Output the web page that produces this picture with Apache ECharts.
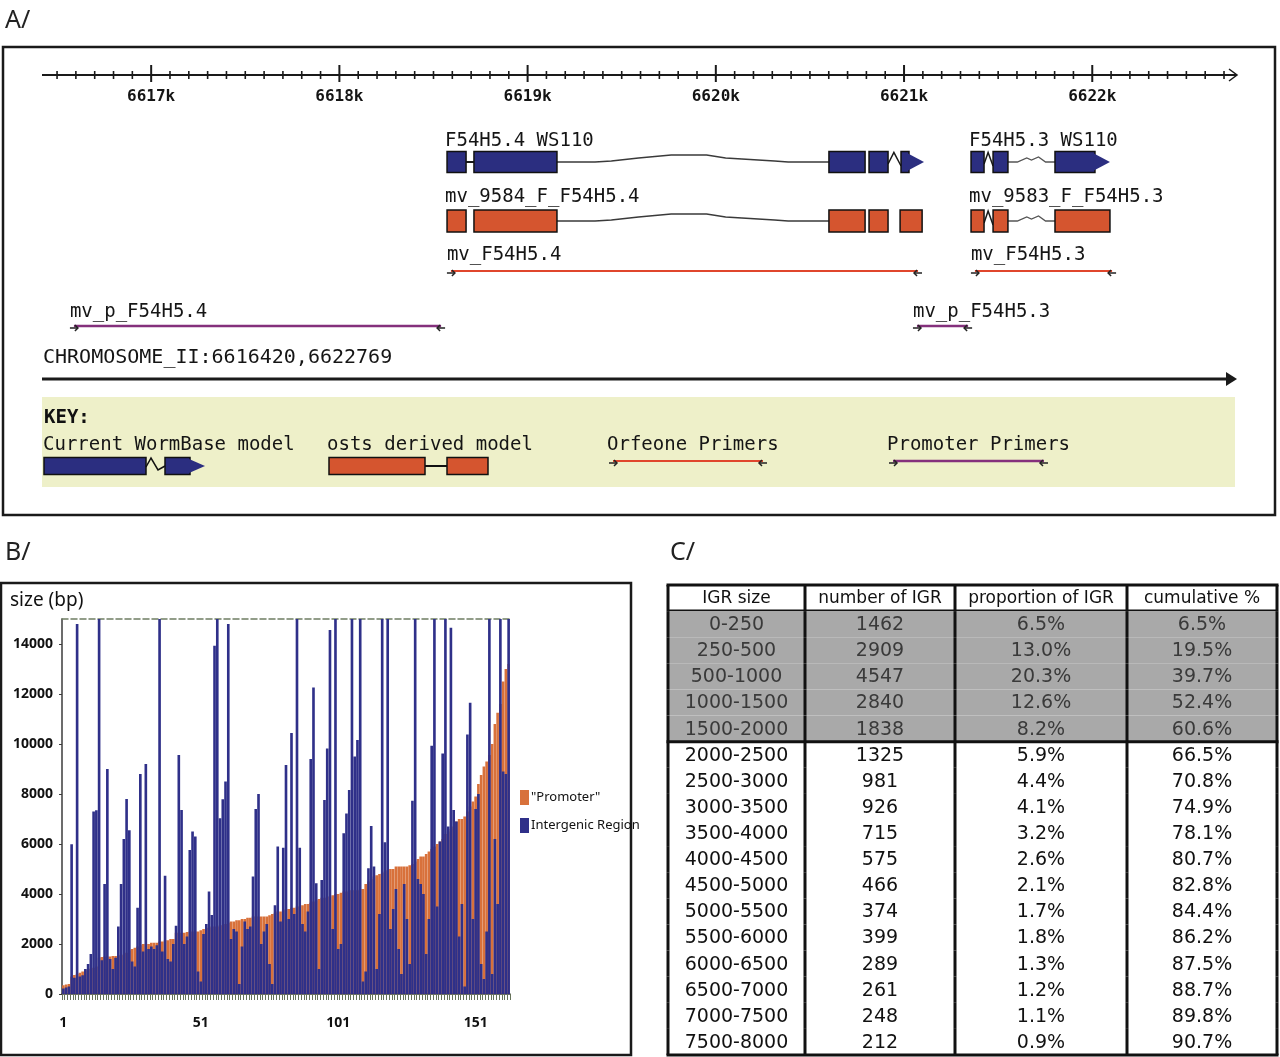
<!DOCTYPE html>
<html>
<head>
<meta charset="utf-8">
<script src="https://cdn.jsdelivr.net/npm/echarts@6/dist/echarts.min.js"></script>
<style>
  html, body { margin: 0; padding: 0; background: #fff; }
  #chart { width: 1280px; height: 1057px; }
</style>
</head>
<body>
<div id="chart"></div>
<script>
// ---- Panel A: genome browser region (bp) ----
const regionStart = 6616420;
const regionEnd = 6622769;
const rulerMajor = [6617000, 6618000, 6619000, 6620000, 6621000, 6622000];
const rulerMinorStep = 100;

const wbF54H5_4 = [[6618572, 6618673], [6618715, 6619156], [6620601, 6620793], [6620814, 6620915], [6620984, 6621106]];
const wbF54H5_3 = [[6621356, 6621425], [6621473, 6621552], [6621802, 6622094]];
const ostF54H5_4 = [[6618572, 6618673], [6618715, 6619156], [6620601, 6620793], [6620814, 6620915], [6620979, 6621096]];
const ostF54H5_3 = [[6621356, 6621425], [6621473, 6621552], [6621802, 6622094]];
const orfeomePrimers = [[6618582, 6621085], [6621366, 6622116]];
const promoterPrimers = [[6616579, 6618551], [6621058, 6621351]];

// ---- Panel B: promoter vs intergenic region size ----
const promoterSize = [
    350, 380, 400, 700, 760, 800, 850, 900, 950, 1000,
    1020, 1050, 1100, 1450, 1480, 1500, 1500, 1500, 1520, 1520,
    1550, 1550, 1580, 1650, 1750, 1800, 1850, 1900, 1950, 2000,
    2000, 2000, 2050, 2050, 2050, 2100, 2100, 2150, 2150, 2200,
    2200, 2450, 2450, 2450, 2450, 2480, 2500, 2500, 2500, 2500,
    2550, 2600, 2650, 2650, 2700, 2700, 2700, 2750, 2750, 2800,
    2850, 2900, 2900, 2950, 2950, 3000, 3000, 3050, 3050, 3100,
    3100, 3100, 3100, 3100, 3100, 3150, 3200, 3250, 3300, 3300,
    3350, 3400, 3400, 3450, 3450, 3500, 3500, 3550, 3600, 3600,
    3650, 3700, 3750, 3800, 3850, 3850, 3900, 3900, 3950, 4000,
    4000, 4050, 4100, 4100, 4150, 4150, 4150, 4150, 4200, 4200,
    4400, 4500, 4600, 4700, 4750, 4800, 4850, 4900, 4950, 5000,
    5000, 5100, 5100, 5100, 5100, 5100, 5150, 5200, 5300, 5400,
    5500, 5500, 5600, 5700, 5800, 5900, 6000, 6100, 6200, 6400,
    6500, 6600, 6700, 6900, 7000, 7000, 7100, 7300, 7500, 7700,
    7900, 8400, 8760, 9100, 9300, 9560, 10000, 10800, 11250, 11600,
    12500, 13000, 13200
];
const intergenicSize = [
    220, 260, 300, 5990, 650, 14800, 700, 750, 1000, 1200,
    1600, 7300, 7350, 15000, 1350, 4400, 9000, 1400, 1000, 1450,
    2700, 4400, 6200, 7800, 6550, 1300, 1100, 3450, 8800, 1700,
    9200, 1800, 1900, 1800, 1950, 15000, 1700, 4730, 1400, 1300,
    2000, 2730, 9560, 7360, 2000, 2300, 5760, 6500, 6300, 900,
    500, 2400, 2800, 4100, 3160, 13930, 15000, 7030, 7790, 8500,
    14800, 2200, 2600, 2500, 400, 1900, 2900, 2600, 2700, 4700,
    7400, 8000, 2000, 2500, 2800, 1200, 400, 3550, 5900, 2900,
    5850, 9160, 3000, 10440, 3200, 15000, 5850, 2800, 2500, 3300,
    9400, 12260, 4430, 1000, 4560, 7760, 9820, 14560, 2600, 15000,
    1800, 2000, 6430, 7220, 8160, 15000, 9500, 10160, 15000, 500,
    900, 5030, 6720, 5100, 1000, 3200, 15000, 6070, 15000, 2600,
    3400, 4200, 1800, 800, 4400, 3000, 1200, 7730, 15000, 4600,
    4400, 4000, 1600, 3000, 9930, 15000, 3500, 6100, 9620, 15000,
    6700, 14650, 7360, 6900, 2300, 3600, 300, 10380, 11650, 3000,
    7400, 8000, 1200, 600, 2500, 15000, 800, 6200, 3600, 15000,
    8900, 8800, 15000
];
const geneIndex = promoterSize.map((v, i) => String(i + 1));

// ---- Panel C: IGR size table ----
const tableHeader = ['IGR size', 'number of IGR', 'proportion of IGR', 'cumulative %'];
const igrBins = ['0-250', '250-500', '500-1000', '1000-1500', '1500-2000', '2000-2500', '2500-3000', '3000-3500',
    '3500-4000', '4000-4500', '4500-5000', '5000-5500', '5500-6000', '6000-6500', '6500-7000', '7000-7500', '7500-8000'];
const igrCount = [1462, 2909, 4547, 2840, 1838, 1325, 981, 926, 715, 575, 466, 374, 399, 289, 261, 248, 212];
const igrProportion = [6.5, 13.0, 20.3, 12.6, 8.2, 5.9, 4.4, 4.1, 3.2, 2.6, 2.1, 1.7, 1.8, 1.3, 1.2, 1.1, 0.9];
const igrCumulative = [6.5, 19.5, 39.7, 52.4, 60.6, 66.5, 70.8, 74.9, 78.1, 80.7, 82.8, 84.4, 86.2, 87.5, 88.7, 89.8, 90.7];
const shadedRows = 5;

// layout / styles
const MONO = '"DejaVu Sans Mono", "Liberation Mono", monospace';
const NARROW = '"Liberation Sans Narrow", "Noto Sans", sans-serif';
const TABLE_FONT = '"DejaVu Sans", sans-serif';
const rowY = { ruler: 75, wb: 162, ost: 221, orf: 271, prom: 326, chrom: 379 };
const labelOffset = { wb: 20, ost: 23, orf: 16, prom: 14 };
const colors = {
    wb: '#2b2e80', ost: '#d5552f', orf: '#e0462c', prom: '#84307c',
    ink: '#1a1a1a', promoterBar: '#d8713b', igrBar: '#2f3089', shade: '#a9a9a9'
};
const colEdges = [0, 137, 287, 459, 609];

const genomeFeatures = [
    { kind: 'ruler' },
    { kind: 'wb', name: 'F54H5.4 WS110', exons: wbF54H5_4, introns: ['bar', 'bigHat', 'gap', 'vee'] },
    { kind: 'wb', name: 'F54H5.3 WS110', exons: wbF54H5_3, introns: ['vee', 'smallHat'] },
    { kind: 'ost', name: 'mv_9584_F_F54H5.4', exons: ostF54H5_4, introns: ['gap', 'bigHat', 'gap', 'gap'] },
    { kind: 'ost', name: 'mv_9583_F_F54H5.3', exons: ostF54H5_3, introns: ['vee', 'smallHat'] },
    { kind: 'orf', name: 'mv_F54H5.4', span: orfeomePrimers[0] },
    { kind: 'orf', name: 'mv_F54H5.3', span: orfeomePrimers[1] },
    { kind: 'prom', name: 'mv_p_F54H5.4', span: promoterPrimers[0] },
    { kind: 'prom', name: 'mv_p_F54H5.3', span: promoterPrimers[1] },
    { kind: 'chrom' }
];

function monoText(x, y, text, size, weight) {
    return {
        type: 'text',
        style: { x: x, y: y, text: text, fontFamily: MONO, fontSize: size || 19, fontWeight: weight || 'normal',
            fill: '#151515', align: 'left', verticalAlign: 'middle' }
    };
}

function seg(x1, y1, x2, y2, color, w) {
    return { type: 'line', shape: { x1: x1, y1: y1, x2: x2, y2: y2 }, style: { stroke: color, lineWidth: w } };
}

function primerArrows(x0, x1, y) {
    return [
        { type: 'polyline', shape: { points: [[x0 - 2, y + 2], [x0 + 6, y + 2]] }, style: { stroke: '#222', lineWidth: 1.5, fill: null } },
        { type: 'polyline', shape: { points: [[x0 + 3, y - 1], [x0 + 6, y + 2], [x0 + 3, y + 5]] }, style: { stroke: '#222', lineWidth: 1.5, fill: null } },
        { type: 'polyline', shape: { points: [[x1 + 2, y + 2], [x1 - 6, y + 2]] }, style: { stroke: '#222', lineWidth: 1.5, fill: null } },
        { type: 'polyline', shape: { points: [[x1 - 3, y - 1], [x1 - 6, y + 2], [x1 - 3, y + 5]] }, style: { stroke: '#222', lineWidth: 1.5, fill: null } }
    ];
}

function renderGenome(params, api) {
    const f = genomeFeatures[params.dataIndex];
    const X = bp => api.coord([bp, 0])[0];
    const children = [];

    if (f.kind === 'ruler') {
        const y = rowY.ruler;
        const x0 = X(regionStart), x1 = X(regionEnd);
        children.push(seg(x0, y, x1 - 1, y, colors.ink, 2));
        children.push({ type: 'polyline', shape: { points: [[x1 - 8, y - 6], [x1, y], [x1 - 8, y + 6]] },
            style: { stroke: colors.ink, lineWidth: 1.5, fill: null } });
        for (let v = Math.ceil(regionStart / rulerMinorStep) * rulerMinorStep; v < regionEnd; v += rulerMinorStep) {
            if (rulerMajor.indexOf(v) < 0) children.push(seg(X(v), y - 4, X(v), y + 4, colors.ink, 1.6));
        }
        rulerMajor.forEach(v => {
            children.push(seg(X(v), y - 10, X(v), y + 7, colors.ink, 2));
            const t = monoText(X(v), y + 22, (v / 1000) + 'k', 16, 'bold');
            t.style.align = 'center';
            children.push(t);
        });
    } else if (f.kind === 'chrom') {
        const y = rowY.chrom;
        const x0 = X(regionStart), x1 = X(regionEnd);
        children.push(seg(x0, y, x1 - 10, y, colors.ink, 3));
        children.push({ type: 'polygon', shape: { points: [[x1 - 11, y - 7], [x1, y], [x1 - 11, y + 7]] },
            style: { fill: colors.ink } });
        children.push(monoText(x0 + 1, y - 21, 'CHROMOSOME_II:' + regionStart + ',' + regionEnd, 20));
    } else if (f.kind === 'wb' || f.kind === 'ost') {
        const y = rowY[f.kind];
        const half = f.kind === 'wb' ? 10.5 : 11;
        const fill = colors[f.kind];
        f.introns.forEach((type, i) => {
            const a = X(f.exons[i][1]), b = X(f.exons[i + 1][0]);
            const L = b - a;
            if (type === 'bar') {
                children.push(seg(a, y, b, y, colors.ink, 2));
            } else if (type === 'vee') {
                children.push({ type: 'polyline', shape: { points: [[a, y + 2], [a + L * 0.45, y - half + 1], [b, y + 4]] },
                    style: { stroke: colors.ink, lineWidth: 1.5, fill: null } });
            } else if (type === 'bigHat') {
                const pts = [[0, 0], [0.14, 0], [0.2, -1], [0.3, -4], [0.42, -7], [0.55, -7], [0.62, -4], [0.8, -1], [0.85, 0], [1, 0]];
                children.push({ type: 'polyline', shape: { points: pts.map(p => [a + p[0] * L, y + p[1]]) },
                    style: { stroke: '#3a3a3a', lineWidth: 1.4, fill: null } });
            } else if (type === 'smallHat') {
                const pts = [[0, 0], [0.2, 0], [0.4, -4], [0.5, -2], [0.65, -5], [0.8, 0], [1, 0]];
                children.push({ type: 'polyline', shape: { points: pts.map(p => [a + p[0] * L, y + p[1]]) },
                    style: { stroke: '#555', lineWidth: 1.3, fill: null } });
            }
        });
        f.exons.forEach((e, i) => {
            const xa = X(e[0]), xb = X(e[1]);
            if (f.kind === 'wb' && i === f.exons.length - 1) {
                const bx = xb - 15;
                children.push({ type: 'rect', shape: { x: xa, y: y - half, width: bx - xa, height: half * 2 },
                    style: { fill: fill, stroke: '#111', lineWidth: 1.5 } });
                children.push({ type: 'polygon', shape: { points: [[bx - 1, y - half + 2], [xb, y], [bx - 1, y + half - 2]] },
                    style: { fill: fill } });
            } else {
                children.push({ type: 'rect', shape: { x: xa, y: y - half, width: xb - xa, height: half * 2 },
                    style: { fill: fill, stroke: '#111', lineWidth: 1.5 } });
            }
        });
        children.push(monoText(X(f.exons[0][0]) - 2, y - half - labelOffset[f.kind] + 10, f.name));
    } else {
        const y = rowY[f.kind];
        const x0 = X(f.span[0]), x1 = X(f.span[1]);
        children.push(seg(x0 + 2, y, x1 - 2, y, colors[f.kind], f.kind === 'prom' ? 2.5 : 2));
        primerArrows(x0, x1, y).forEach(c => children.push(c));
        children.push(monoText(x0 - 2, y - labelOffset[f.kind], f.name));
    }
    return { type: 'group', children: children };
}

function renderTable(params, api) {
    const r = params.dataIndex;
    const cy = api.coord([0, r])[1];
    const rh = api.size([0, 1])[1];
    const top = cy - rh / 2, bottom = cy + rh / 2;
    const xs = colEdges.map(c => api.coord([c, r])[0]);
    const shaded = r >= 1 && r <= shadedRows;
    const children = [];
    if (shaded) {
        children.push({ type: 'rect', shape: { x: xs[0], y: top, width: xs[4] - xs[0], height: rh },
            style: { fill: colors.shade } });
    }
    const cells = r === 0 ? tableHeader : [
        igrBins[r - 1], String(igrCount[r - 1]),
        igrProportion[r - 1].toFixed(1) + '%', igrCumulative[r - 1].toFixed(1) + '%'
    ];
    cells.forEach((txt, c) => {
        children.push({
            type: 'text',
            style: { x: (xs[c] + xs[c + 1]) / 2, y: cy + 1, text: txt, align: 'center', verticalAlign: 'middle',
                fontFamily: TABLE_FONT, fontSize: r === 0 ? 17 : 19, fill: shaded ? '#3a3a3a' : '#111' }
        });
    });
    xs.forEach(x => children.push(seg(x, top, x, bottom, '#111', 3)));
    if (r === 0) {
        children.push(seg(xs[0] - 1.5, top, xs[4] + 1.5, top, '#111', 3));
        children.push(seg(xs[0], bottom, xs[4], bottom, '#111', 3));
    }
    if (r === shadedRows || r === igrBins.length) {
        children.push(seg(xs[0] - 1.5, bottom, xs[4] + 1.5, bottom, '#111', 3));
    }
    return { type: 'group', children: children };
}

const chart = echarts.init(document.getElementById('chart'), null, { renderer: 'canvas' });

const keyY = 466;
const option = {
    animation: false,
    backgroundColor: '#fff',
    grid: [
        { left: 42, right: 43, top: 0, bottom: 0 },
        { left: 62, width: 448, top: 619, height: 375 },
        { left: 668, width: 609, top: 585, height: 470 }
    ],
    xAxis: [
        { gridIndex: 0, type: 'value', min: regionStart, max: regionEnd, show: false },
        {
            gridIndex: 1, type: 'category', data: geneIndex,
            axisLine: { lineStyle: { color: '#3b3b3b', width: 1.5 } },
            axisTick: { show: true, interval: 0, length: 6, lineStyle: { color: '#66735a' } },
            axisLabel: { interval: 49, margin: 22, fontFamily: NARROW, fontWeight: 'bold', fontSize: 14, color: '#111' }
        },
        {
            gridIndex: 1, type: 'category', data: geneIndex, position: 'top',
            axisLine: { lineStyle: { color: '#6f7d63', width: 1.5, type: 'dashed' } },
            axisTick: { show: false }, axisLabel: { show: false }
        },
        { gridIndex: 2, type: 'value', min: 0, max: 609, show: false }
    ],
    yAxis: [
        { gridIndex: 0, type: 'value', min: 0, max: 1057, inverse: true, show: false },
        {
            gridIndex: 1, type: 'value', min: 0, max: 15000, interval: 2000,
            name: 'size (bp)', nameLocation: 'end', nameGap: 9,
            nameTextStyle: { align: 'left', padding: [0, 0, 0, -52], fontFamily: NARROW, fontSize: 19, color: '#111' },
            axisLine: { show: true, lineStyle: { color: '#3b3b3b', width: 1.5 } },
            axisTick: { show: true, length: 3 },
            splitLine: { show: false },
            axisLabel: { showMaxLabel: false, margin: 9, formatter: v => String(v),
                fontFamily: NARROW, fontWeight: 'bold', fontSize: 14, color: '#111' }
        },
        { gridIndex: 2, type: 'category', data: ['header'].concat(igrBins), inverse: true, show: false }
    ],
    legend: {
        data: ['"Promoter"', 'Intergenic Region'],
        orient: 'vertical', left: 515, top: 785,
        icon: 'rect', itemWidth: 9, itemHeight: 15, itemGap: 13,
        textStyle: { fontFamily: NARROW, fontSize: 13, color: '#111', padding: [0, 0, 0, -3] }
    },
    graphic: [
        { type: 'text', left: 5, top: 8, style: { text: 'A/', fontFamily: '"Noto Sans", sans-serif', fontSize: 25, fill: '#222' } },
        { type: 'text', left: 5, top: 540, style: { text: 'B/', fontFamily: '"Noto Sans", sans-serif', fontSize: 25, fill: '#222' } },
        { type: 'text', left: 670, top: 540, style: { text: 'C/', fontFamily: '"Noto Sans", sans-serif', fontSize: 25, fill: '#222' } },
        { type: 'rect', shape: { x: 3, y: 47, width: 1272, height: 468 }, style: { fill: null, stroke: '#1a1a1a', lineWidth: 2.5 } },
        { type: 'rect', shape: { x: 1, y: 583, width: 630, height: 472 }, style: { fill: null, stroke: '#1a1a1a', lineWidth: 2.5 } },
        { type: 'rect', shape: { x: 42, y: 397, width: 1193, height: 90 }, style: { fill: '#eef0c9' } },
        { type: 'text', x: 44, y: 418, style: { text: 'KEY:', fontFamily: MONO, fontSize: 19, fontWeight: 'bold', fill: '#111', verticalAlign: 'middle' } },
        { type: 'text', x: 43, y: 445, style: { text: 'Current WormBase model', fontFamily: MONO, fontSize: 19, fill: '#151515', verticalAlign: 'middle' } },
        { type: 'text', x: 327, y: 445, style: { text: 'osts derived model', fontFamily: MONO, fontSize: 19, fill: '#151515', verticalAlign: 'middle' } },
        { type: 'text', x: 607, y: 445, style: { text: 'Orfeone Primers', fontFamily: MONO, fontSize: 19, fill: '#151515', verticalAlign: 'middle' } },
        { type: 'text', x: 887, y: 445, style: { text: 'Promoter Primers', fontFamily: MONO, fontSize: 19, fill: '#151515', verticalAlign: 'middle' } },
        { type: 'rect', shape: { x: 44, y: keyY - 8.5, width: 102, height: 17 }, style: { fill: colors.wb, stroke: '#111', lineWidth: 1.5 } },
        { type: 'polyline', shape: { points: [[146, keyY + 1], [151, keyY - 8], [158, keyY + 4], [165, keyY]] }, style: { stroke: '#111', lineWidth: 1.5, fill: null } },
        { type: 'rect', shape: { x: 165, y: keyY - 8.5, width: 25, height: 17 }, style: { fill: colors.wb, stroke: '#111', lineWidth: 1.5 } },
        { type: 'polygon', shape: { points: [[189, keyY - 7], [205, keyY], [189, keyY + 7]] }, style: { fill: colors.wb } },
        { type: 'rect', shape: { x: 329, y: keyY - 8.5, width: 96, height: 17 }, style: { fill: colors.ost, stroke: '#111', lineWidth: 1.5 } },
        { type: 'line', shape: { x1: 425, y1: keyY, x2: 447, y2: keyY }, style: { stroke: '#111', lineWidth: 2 } },
        { type: 'rect', shape: { x: 447, y: keyY - 8.5, width: 41, height: 17 }, style: { fill: colors.ost, stroke: '#111', lineWidth: 1.5 } },
        { type: 'line', shape: { x1: 613, y1: keyY - 5, x2: 763, y2: keyY - 5 }, style: { stroke: colors.orf, lineWidth: 2 } },
        { type: 'line', shape: { x1: 893, y1: keyY - 5, x2: 1044, y2: keyY - 5 }, style: { stroke: colors.prom, lineWidth: 2.5 } }
    ].concat(primerArrows(611, 765, keyY - 5).map(c => Object.assign({}, c)))
     .concat(primerArrows(891, 1046, keyY - 5).map(c => Object.assign({}, c))),
    series: [
        {
            type: 'custom', name: 'genome', xAxisIndex: 0, yAxisIndex: 0,
            data: genomeFeatures.map((f, i) => [regionStart, i]),
            renderItem: renderGenome, clip: false, silent: true, z: 3
        },
        {
            type: 'bar', name: '"Promoter"', xAxisIndex: 1, yAxisIndex: 1,
            data: promoterSize, barCategoryGap: '4%', barGap: '-100%',
            itemStyle: { color: colors.promoterBar }, silent: true
        },
        {
            type: 'bar', name: 'Intergenic Region', xAxisIndex: 1, yAxisIndex: 1,
            data: intergenicSize, barCategoryGap: '4%', barGap: '-100%',
            itemStyle: { color: colors.igrBar }, silent: true
        },
        {
            type: 'custom', name: 'table', xAxisIndex: 3, yAxisIndex: 2,
            data: ['header'].concat(igrBins).map((r, i) => [0, i]),
            renderItem: renderTable, clip: false, silent: true
        }
    ]
};

chart.setOption(option);
</script>
</body>
</html>
